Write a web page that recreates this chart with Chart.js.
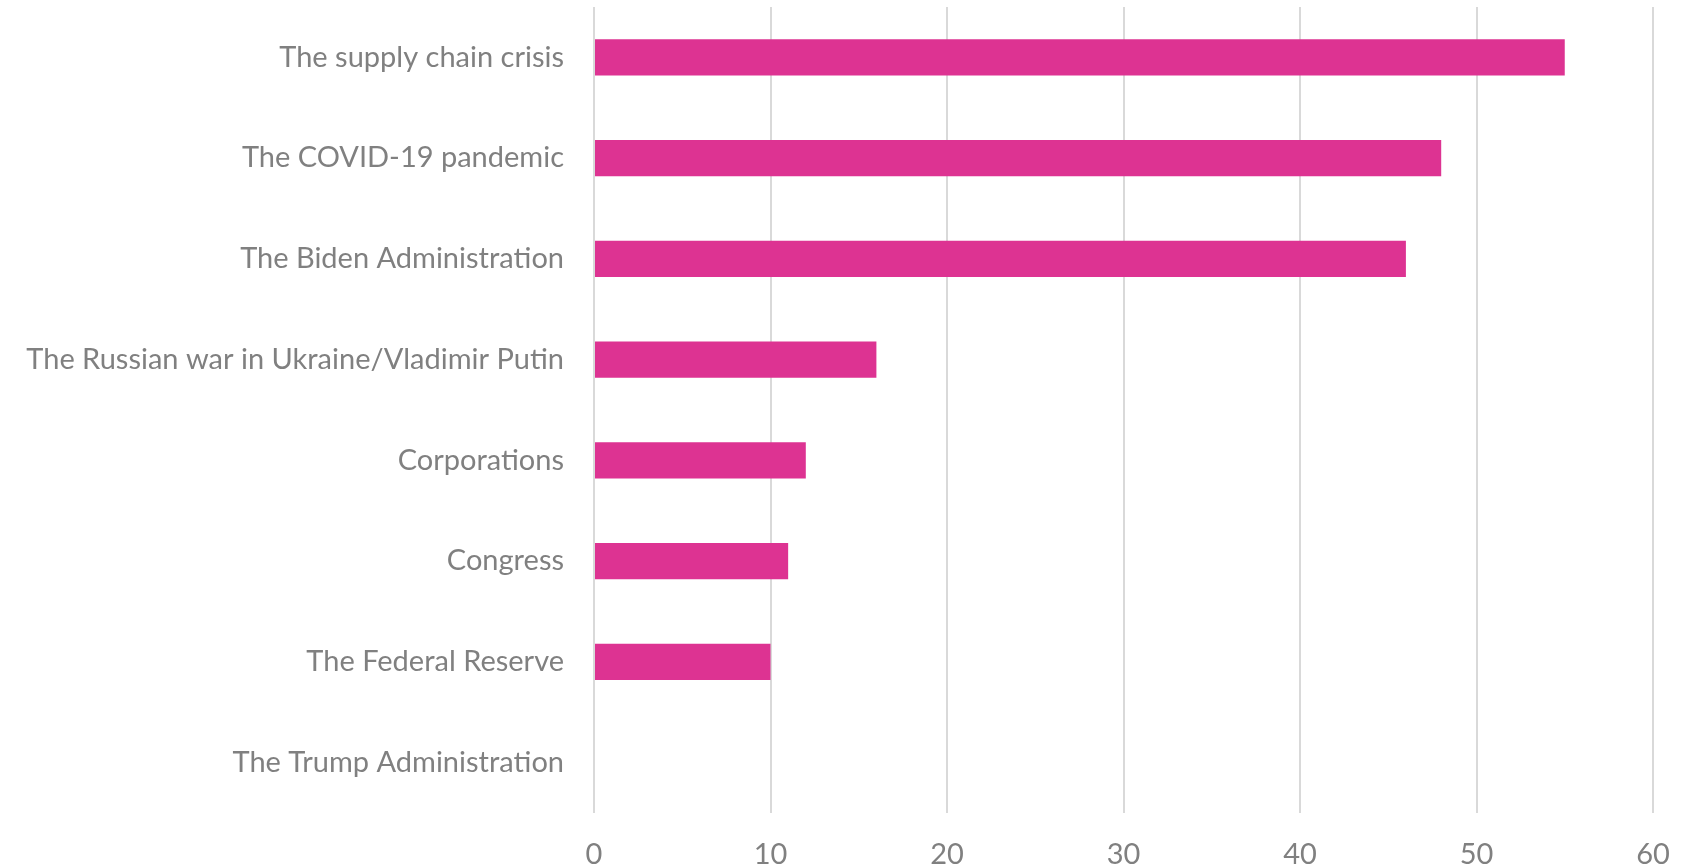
<!DOCTYPE html>
<html>
<head>
<meta charset="utf-8">
<script src="https://cdn.jsdelivr.net/npm/chart.js@4/dist/chart.umd.min.js"></script>
<style>
  html, body { margin: 0; padding: 0; background: #fff; }
  #wrap { width: 1696px; height: 868px; }
</style>
</head>
<body>
<div id="wrap"><canvas id="blameChart" width="1696" height="868"></canvas></div>
<script>
// Who is to blame for inflation (percent)
const categories = [
  "The supply chain crisis",
  "The COVID-19 pandemic",
  "The Biden Administration",
  "The Russian war in Ukraine/Vladimir Putin",
  "Corporations",
  "Congress",
  "The Federal Reserve",
  "The Trump Administration"
];
const shares = [55, 48, 46, 16, 12, 11, 10, 0];
const xTicks = [0, 10, 20, 30, 40, 50, 60];

const labelFont = { family: "Lato, 'Open Sans', sans-serif", size: 29 };

const ctx = document.getElementById("blameChart");
new Chart(ctx, {
  type: 'bar',
  data: {
    labels: categories,
    datasets: [{
      data: shares,
      backgroundColor: '#dd3392',
      borderWidth: 0,
      barPercentage: 0.36,
      categoryPercentage: 1
    }]
  },
  options: {
    indexAxis: 'y',
    responsive: false,
    animation: false,
    layout: { padding: { top: 7, right: 43, left: 0, bottom: 0 } },
    plugins: { legend: { display: false }, tooltip: { enabled: false } },
    scales: {
      x: {
        min: 0,
        max: 60,
        afterBuildTicks: scale => { scale.ticks = xTicks.map(v => ({ value: v })); },
        afterFit: scale => { scale.height = 55; },
        grid: { color: '#d9d9d9', lineWidth: 2, drawTicks: false },
        border: { display: false },
        ticks: { color: '#808080', font: labelFont, padding: 24 }
      },
      y: {
        afterFit: scale => {
          scale.width = 594;
          // category labels sit mid-band, no extra room needed above/below
          scale.paddingTop = 0;
          scale.paddingBottom = 0;
        },
        grid: { display: false },
        border: { display: false },
        ticks: { color: '#808080', font: labelFont, padding: 22 }
      }
    }
  }
});
</script>
</body>
</html>
